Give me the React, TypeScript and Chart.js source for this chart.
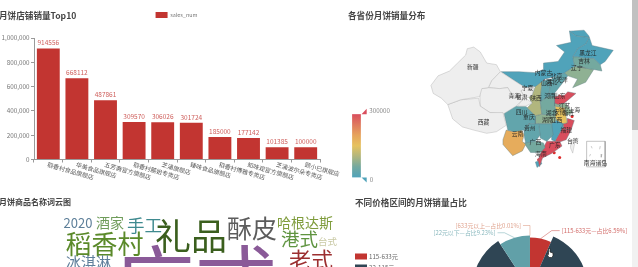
import React, { useEffect, useRef } from "react";
import { Chart, registerables } from "chart.js";

Chart.register(...registerables);

const FONT = '"Noto Sans CJK SC", "Noto Sans", sans-serif';

// ---- shops bar chart
const shopNames = ["稻香村食品旗舰店", "华美食品旗舰店", "五芳斋官方旗舰店", "稻香村麓姐专卖店", "芝涌旗舰店", "臻味食品旗舰店", "稻香村博雅专卖店", "知味观官方旗舰店", "芝涌波尔朵专卖店", "颐小巳旗舰店"];
const shopSales = [914556, 668112, 487861, 309570, 306026, 301724, 185000, 177142, 101385, 100000];

// ---- map: outlines (picture units)
const C_TEAL = "#50a3ba", C_T2 = "#62a5ac", C_T3 = "#74a99f", C_G = "#8fb193", C_O = "#b1b67e", C_Y = "#e6c25e", C_OR = "#e6ac5c", C_R = "#d94e5d", C_NONE = "#eeeeee";
const provinceNames = ["新疆", "西藏", "青海", "甘肃", "宁夏", "内蒙古", "黑龙江", "吉林", "辽宁", "河北", "山西", "山东", "河南", "陕西", "四川", "云南", "贵州", "广西", "广东", "海南", "湖南", "江西", "湖北", "安徽", "江苏", "浙江", "福建", "台湾"];
const provinceColors = [C_NONE, C_NONE, C_NONE, C_NONE, C_NONE, C_TEAL, C_TEAL, C_T3, C_G, C_T2, C_T2, C_R, C_T3, C_O, C_T2, C_OR, C_T2, C_T3, C_R, C_TEAL, C_T2, C_TEAL, C_G, C_Y, C_G, C_R, C_R, C_NONE];
const provinceOutlines: number[][][] = [
  [[268,255],[290,225],[325,210],[350,185],[375,160],[380,140],[400,135],[420,150],[440,185],[470,190],[482,212],[455,240],[445,262],[425,265],[418,290],[390,295],[360,300],[320,315],[300,295],[275,280]],
  [[320,315],[360,300],[415,295],[420,320],[450,340],[490,340],[500,380],[470,400],[440,405],[400,395],[365,385],[335,360]],
  [[418,265],[445,262],[480,265],[505,262],[520,290],[550,300],[530,320],[490,345],[450,340],[420,320]],
  [[482,212],[540,250],[560,262],[545,272],[560,295],[580,310],[560,320],[535,320],[550,300],[520,290],[505,262],[480,265],[445,262],[455,240]],
  [[560,262],[585,258],[580,285],[570,292],[560,295],[545,272]],
  [[485,212],[540,212],[590,215],[615,205],[615,185],[660,180],[680,150],[655,130],[700,120],[695,85],[715,100],[755,105],[745,125],[720,140],[705,165],[710,195],[680,215],[650,228],[620,235],[590,258],[560,262],[540,250]],
  [[695,85],[740,82],[755,100],[765,130],[830,145],[805,180],[790,190],[770,170],[745,170],[720,165],[705,165],[720,140],[745,125],[755,105],[715,100]],
  [[705,165],[720,165],[745,170],[770,170],[790,190],[795,210],[770,205],[740,200],[710,195]],
  [[710,195],[740,200],[770,205],[745,245],[705,262],[720,235],[690,225],[680,215]],
  [[640,235],[650,228],[680,215],[690,225],[672,250],[650,278],[650,290],[630,290]],
  [[612,240],[640,235],[630,290],[605,305],[608,270]],
  [[650,290],[680,285],[690,275],[715,280],[680,310],[660,315],[648,310]],
  [[605,305],[630,290],[650,290],[648,310],[650,320],[655,340],[650,350],[610,345]],
  [[590,258],[612,240],[608,270],[605,305],[610,345],[590,350],[565,325],[580,310],[570,292],[580,285]],
  [[490,320],[535,320],[560,320],[565,325],[590,350],[590,375],[570,375],[555,395],[525,400],[505,395],[495,350]],
  [[500,395],[525,400],[545,390],[555,410],[550,430],[560,440],[550,460],[520,475],[490,440],[490,425]],
  [[555,395],[570,375],[600,375],[605,410],[590,430],[560,435],[555,410]],
  [[555,435],[590,430],[615,435],[620,450],[605,465],[575,465]],
  [[605,470],[625,430],[665,430],[672,445],[640,468],[612,482],[603,510],[598,490]],
  [[590,495],[605,490],[610,500],[595,512]],
  [[600,375],[640,375],[645,410],[625,430],[605,420]],
  [[640,375],[655,365],[675,375],[675,385],[650,430],[640,425]],
  [[590,350],[610,345],[650,350],[655,365],[640,375],[590,375]],
  [[650,320],[680,325],[688,372],[675,375],[655,365],[650,350],[655,340]],
  [[648,310],[680,310],[705,340],[685,350],[680,325],[650,320]],
  [[688,358],[710,365],[700,395],[678,390],[675,375],[688,372]],
  [[675,385],[678,390],[700,395],[685,425],[665,432],[650,430]],
  [[700,430],[710,420],[712,432],[705,467],[698,450]],
];
const cityDotsX = [752,741,724,615,660,655,625,643,665,634,668,683,640,655,628,570,547,571,535,585,613,648,665,695,690,703,600];
const cityDotsY = [177,199,225,238,240,248,272,270,288,311,345,345,362,383,392,373,360,409,429,456,468,466,481,365,395,352,488];
const placeNames = ["新疆","西藏","青海","甘肃","宁夏","陕西","山西","内蒙古","北京","天津","河北","河南","山东","江苏","安徽","上海","湖北","四川","重庆","贵州","云南","湖南","江西","浙江","福建","广西","广东","台湾","海南","黑龙江","吉林","辽宁","南海诸岛"];
const placeX = [397,430,525,548,566,592,625,615,655,672,640,635,665,680,665,710,640,547,570,573,535,628,655,692,685,590,650,705,607,752,740,718,775];
const placeY = [198,370,288,292,262,295,248,215,225,238,245,288,287,320,337,332,340,338,352,388,405,362,362,342,395,432,442,427,468,153,178,200,497];
const seaBoxX = [748,805,805,748,748];
const seaBoxY = [430,430,510,510,430];
const seaDashes = [[[762,445],[765,452]], [[790,445],[788,455]], [[760,470],[757,477]], [[795,470],[793,480]], [[775,488],[772,495]], [[798,490],[796,497]]];
const legendStops = ["#d94e5d", "#df7a5e", "#e6a35c", "#e6c25e", "#b1b67e", "#74a99f", "#50a3ba"];
const legendHigh = "300000";
const legendLow = "0";

// ---- word cloud (largest word first so the others sit on top of it)
const words = ["广式", "2020", "酒家", "手工", "礼品", "酥皮", "哈根达斯", "稻香村", "港式", "台式", "冰淇淋", "老式"];
const wordX = [195, 78, 110, 144.5, 191, 252, 305, 104.5, 299.5, 327.5, 88.5, 311];
const wordY = [283, 223, 222.7, 225, 236.7, 228, 222.7, 244, 239, 241, 262, 260];
const wordSizes = [82, 13, 14, 17.5, 36, 25, 14, 26, 18.5, 9.5, 15, 22];
const wordColors = ["#8a5a98", "#5d7f99", "#6f9c5a", "#3f8a8f", "#3b5f1e", "#5c5c5c", "#7f9c3c", "#5b8a2a", "#5f9440", "#c9c9a4", "#5f7f9b", "#9c2f30"];

// ---- price doughnut
const priceBands = ["115-633元", "22-115元", "22元以下", "633元以上"];
const priceShares = [6.59, 84.17, 9.23, 0.01];
const priceColors = ["#c23531", "#2f4554", "#61a0a8", "#d48265"];
const priceOuter = [52, 58, 54, 54];
const priceLabelDx = [11, 11, -10, 0];
const priceLabelDy = [-8, -8, -5, -10];

function makeBar(canvas: HTMLCanvasElement) {
  return new Chart(canvas, {
    type: "bar",
    data: {
      labels: shopNames,
      datasets: [{ label: "sales_num", data: shopSales, backgroundColor: "#c23531", categoryPercentage: 0.8, barPercentage: 1 }],
    },
    options: {
      animation: false, responsive: false, maintainAspectRatio: false,
      layout: { padding: { right: 33, top: 10, left: 0, bottom: 0 } },
      plugins: {
        tooltip: { enabled: false },
        legend: { labels: { boxWidth: 12, boxHeight: 6, padding: 12, color: "#777", font: { size: 5.4, family: FONT } } },
      },
      scales: {
        x: {
          grid: { offset: true, drawOnChartArea: false, tickLength: 3, color: "#999" },
          border: { color: "#999" },
          ticks: { display: false },
          afterFit: (s: any) => { s.height = 30.5; },
        },
        y: {
          min: 0, max: 1000000,
          grid: { drawOnChartArea: false, tickLength: 3, color: "#999" },
          border: { color: "#999" },
          ticks: { stepSize: 200000, padding: 1.5, color: "#777", font: { size: 6.3, family: FONT }, callback: (v: any) => Number(v).toLocaleString("en-US") },
          afterFit: (s: any) => { s.width = 34; },
        },
      },
    },
    plugins: [{
      id: "barText",
      afterLayout(chart: any) {
        chart.legend.left += 16.5;
        chart.legend.right += 16.5;
        chart.legend.top -= 10;
        chart.legend.bottom -= 10;
      },
      afterDatasetsDraw(chart: any) {
        const { ctx } = chart;
        const meta = chart.getDatasetMeta(0);
        ctx.save();
        ctx.fillStyle = "#c23531";
        ctx.globalAlpha = 0.8;
        ctx.font = `6.5px ${FONT}`;
        ctx.textAlign = "center";
        ctx.textBaseline = "middle";
        meta.data.forEach((b: any, i: number) => ctx.fillText(String(shopSales[i]), b.x, b.y - 5.8));
        ctx.globalAlpha = 1;
        ctx.fillStyle = "#555";
        ctx.font = `6px ${FONT}`;
        ctx.textAlign = "left";
        ctx.textBaseline = "top";
        meta.data.forEach((b: any, i: number) => {
          ctx.save();
          ctx.translate(b.x, chart.scales.y.bottom + 2);
          ctx.rotate((16 * Math.PI) / 180);
          ctx.fillText(shopNames[i], 0, 0);
          ctx.restore();
        });
        ctx.restore();
      },
    }],
  } as any);
}

function makeMap(canvas: HTMLCanvasElement) {
  const polys = provinceOutlines.map((o, i) => ({
    type: "scatter", label: provinceNames[i], showLine: true, fill: "shape", tension: 0,
    backgroundColor: provinceColors[i], borderColor: provinceColors[i] === C_NONE ? "#aaaaaa" : "#5f7f86", borderWidth: 0.4,
    pointRadius: 0, data: [...o, o[0]].map(([x, y]) => ({ x, y })),
  }));
  return new Chart(canvas, {
    type: "scatter",
    data: {
      datasets: [
        ...polys,
        { label: "box", showLine: true, fill: false, borderColor: "#888", borderWidth: 0.5, pointRadius: 0, data: seaBoxX.map((x, i) => ({ x, y: seaBoxY[i] })) },
        ...seaDashes.map((d) => ({ label: "dash", showLine: true, fill: false, borderColor: "#999", borderWidth: 0.5, pointRadius: 0, data: d.map(([x, y]) => ({ x, y })) })),
        { label: "cities", showLine: false, pointRadius: 1.5, borderWidth: 0, pointBackgroundColor: "#dd2c2c", data: cityDotsX.map((x, i) => ({ x, y: cityDotsY[i] })) },
      ] as any,
    },
    options: {
      animation: false, responsive: false, maintainAspectRatio: false,
      layout: { padding: 0 },
      plugins: { legend: { display: false }, tooltip: { enabled: false } },
      scales: {
        x: { type: "linear", display: false, min: 0, max: 894 },
        y: { type: "linear", display: false, min: 0, max: 570, reverse: true },
      },
    },
    plugins: [{
      id: "mapText",
      afterDatasetsDraw(chart: any) {
        const { ctx, scales: { x, y } } = chart;
        ctx.save();
        ctx.fillStyle = "#222";
        ctx.globalAlpha = 0.9;
        ctx.font = `5.8px ${FONT}`;
        ctx.textAlign = "center";
        ctx.textBaseline = "middle";
        placeNames.forEach((n, i) => ctx.fillText(n, x.getPixelForValue(placeX[i]), y.getPixelForValue(placeY[i])));
        ctx.globalAlpha = 1;
        const x0 = x.getPixelForValue(25), x1 = x.getPixelForValue(52), y0 = y.getPixelForValue(345), y1 = y.getPixelForValue(543);
        const g = ctx.createLinearGradient(0, y0, 0, y1);
        legendStops.forEach((c, i) => g.addColorStop(i / (legendStops.length - 1), c));
        ctx.fillStyle = g;
        ctx.fillRect(x0, y0, x1 - x0, y1 - y0);
        const tri = (c: string, ax: number, ay: number, bx: number, by: number, cx: number, cy: number) => {
          ctx.fillStyle = c;
          ctx.beginPath();
          ctx.moveTo(x.getPixelForValue(ax), y.getPixelForValue(ay));
          ctx.lineTo(x.getPixelForValue(bx), y.getPixelForValue(by));
          ctx.lineTo(x.getPixelForValue(cx), y.getPixelForValue(cy));
          ctx.fill();
        };
        tri("#d94e5d", 54, 345, 70, 345, 70, 328);
        tri("#50a3ba", 54, 543, 70, 543, 70, 559);
        ctx.fillStyle = "#888";
        ctx.font = `6.2px ${FONT}`;
        ctx.textAlign = "left";
        ctx.fillText(legendHigh, x.getPixelForValue(78), y.getPixelForValue(335));
        ctx.fillText(legendLow, x.getPixelForValue(79), y.getPixelForValue(549));
        ctx.restore();
      },
    }],
  } as any);
}

function makeCloud(canvas: HTMLCanvasElement) {
  return new Chart(canvas, {
    type: "scatter",
    data: { datasets: [{ label: "words", pointRadius: 0, data: wordX.map((x, i) => ({ x, y: wordY[i] })) }] },
    options: {
      animation: false, responsive: false, maintainAspectRatio: false,
      layout: { padding: 0 },
      plugins: { legend: { display: false }, tooltip: { enabled: false } },
      scales: {
        x: { type: "linear", display: false, min: 0, max: 340 },
        y: { type: "linear", display: false, min: 185, max: 267, reverse: true },
      },
    },
    plugins: [{
      id: "cloud",
      afterDatasetsDraw(chart: any) {
        const { ctx } = chart;
        const meta = chart.getDatasetMeta(0);
        ctx.save();
        ctx.textAlign = "center";
        ctx.textBaseline = "middle";
        meta.data.forEach((p: any, i: number) => {
          ctx.fillStyle = wordColors[i];
          ctx.font = `${wordSizes[i]}px ${FONT}`;
          ctx.fillText(words[i], p.x, p.y);
        });
        ctx.restore();
      },
    }],
  } as any);
}

function makePie(canvas: HTMLCanvasElement) {
  return new Chart(canvas, {
    type: "doughnut",
    data: {
      labels: priceBands,
      datasets: [{ data: priceShares, backgroundColor: priceColors, borderWidth: 0, radius: 58, cutout: 34 }],
    },
    options: {
      animation: false, responsive: false, maintainAspectRatio: false,
      layout: { padding: 0 },
      plugins: { legend: { display: false }, tooltip: { enabled: false } },
    },
    plugins: [{
      id: "pieExtras",
      beforeDatasetsDraw(chart: any) {
        chart.getDatasetMeta(0).data.forEach((a: any, i: number) => { a.outerRadius = priceOuter[i]; });
      },
      afterDatasetsDraw(chart: any) {
        const { ctx } = chart;
        const arcs = chart.getDatasetMeta(0).data;
        ctx.save();
        ctx.font = `5.9px ${FONT}`;
        ctx.textBaseline = "middle";
        ctx.lineWidth = 0.6;
        [0, 2, 3].forEach((i) => {
          const a = arcs[i];
          const mid = (a.startAngle + a.endAngle) / 2;
          const px = a.x + Math.cos(mid) * a.outerRadius, py = a.y + Math.sin(mid) * a.outerRadius;
          const ex = px + priceLabelDx[i], ey = py + priceLabelDy[i];
          const right = i === 0;
          const hx = ex + (right ? 8 : -7);
          ctx.strokeStyle = priceColors[i];
          ctx.fillStyle = priceColors[i];
          ctx.globalAlpha = 0.75;
          ctx.beginPath();
          ctx.moveTo(px, py);
          ctx.lineTo(ex, ey);
          ctx.lineTo(hx, ey);
          ctx.stroke();
          ctx.textAlign = right ? "left" : "right";
          ctx.fillText(`[${priceBands[i]}—占比${priceShares[i]}%]`, hx + (right ? 2 : -2), ey);
        });
        ctx.globalAlpha = 1;
        ctx.textAlign = "left";
        ctx.font = `6.2px ${FONT}`;
        [0, 1].forEach((i) => {
          const yTop = 253.5 - 185 + i * 11;
          ctx.fillStyle = priceColors[i];
          ctx.fillRect(15, yTop, 12, 6);
          ctx.fillStyle = "#666";
          ctx.fillText(priceBands[i], 29, yTop + 3);
        });
        ctx.restore();
      },
    }],
  } as any);
}

const titleStyle: React.CSSProperties = { position: "absolute", font: `700 8.6px ${FONT}`, color: "#444", whiteSpace: "nowrap", lineHeight: "10px" };
const abs = (l: number, t: number): React.CSSProperties => ({ position: "absolute", left: l, top: t });

export default function App() {
  const barRef = useRef<HTMLCanvasElement>(null);
  const mapRef = useRef<HTMLCanvasElement>(null);
  const cloudRef = useRef<HTMLCanvasElement>(null);
  const pieRef = useRef<HTMLCanvasElement>(null);
  useEffect(() => {
    const charts = [makeBar(barRef.current!), makeMap(mapRef.current!), makeCloud(cloudRef.current!), makePie(pieRef.current!)];
    return () => charts.forEach((c) => c.destroy());
  }, []);
  return (
    <div style={{ position: "fixed", left: 0, top: 0, width: 638, height: 267, overflow: "hidden", background: "#fff", filter: "blur(0.45px)" }}>
      <canvas ref={barRef} width={353} height={190} style={abs(0, 0)} />
      <canvas ref={mapRef} width={298} height={190} style={abs(340, 0)} />
      <canvas ref={cloudRef} width={340} height={82} style={abs(0, 185)} />
      <canvas ref={pieRef} width={380} height={209} style={abs(340, 185)} />
      <div style={{ ...titleStyle, left: -1, top: 10 }}>月饼店铺销量Top10</div>
      <div style={{ ...titleStyle, left: 348, top: 10 }}>各省份月饼销量分布</div>
      <div style={{ ...titleStyle, left: -1, top: 197, fontSize: 8 }}>月饼商品名称词云图</div>
      <div style={{ ...titleStyle, left: 355, top: 197 }}>不同价格区间的月饼销量占比</div>
      <svg width="8" height="10" viewBox="0 0 8 10" style={abs(546, 248)}>
        <path d="M2.5 0.5 L4 0.5 L4 4 L7 5 L7 8 L5.5 9.5 L3 9.5 L0.8 6 L2.5 6.5 Z" fill="#fff" stroke="#222" strokeWidth="0.7" />
      </svg>
      <div style={{ position: "absolute", left: 632, top: 0, width: 6, height: 267, background: "#f1f1f1" }} />
      <div style={{ position: "absolute", left: 632, top: 0, width: 6, height: 130, background: "#c1c1c1" }} />
    </div>
  );
}
